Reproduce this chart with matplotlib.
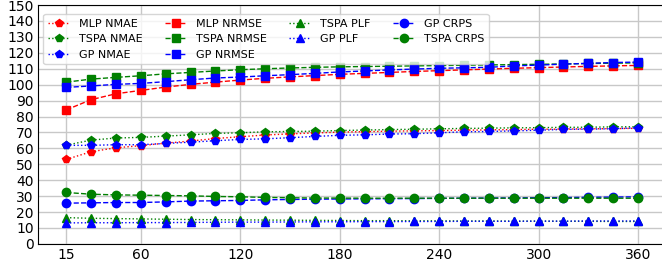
import matplotlib
matplotlib.use("Agg")
import matplotlib.pyplot as plt

# horizon (minutes)
horizons = [15, 30, 45, 60, 75, 90, 105, 120, 135, 150, 165, 180,
            195, 210, 225, 240, 255, 270, 285, 300, 315, 330, 345, 360]
xticks = [15, 60, 120, 180, 240, 300, 360]

mlp_nmae = [53.1, 57.9, 60.4, 61.7, 63.3, 64.6, 66.2, 67.3, 68.4, 69.1, 69.7, 70.2,
            70.5, 70.8, 71.0, 71.2, 71.4, 71.6, 71.8, 72.0, 72.1, 72.3, 72.4, 72.6]
tspa_nmae = [62.0, 65.2, 66.5, 66.9, 67.7, 68.5, 69.4, 69.8, 70.4, 70.6, 70.8, 71.2,
             71.5, 71.8, 72.0, 72.3, 72.5, 72.7, 72.9, 73.0, 73.2, 73.3, 73.5, 73.6]
gp_nmae = [61.9, 61.9, 62.3, 62.3, 63.1, 63.9, 64.8, 65.6, 66.0, 66.7, 67.5, 68.2,
           68.5, 69.0, 69.2, 69.8, 70.4, 70.6, 71.0, 71.4, 71.9, 72.1, 72.3, 72.9]

mlp_nrmse = [84.2, 90.6, 94.3, 96.4, 98.5, 100.2, 101.6, 102.9, 104.0, 104.9, 105.7, 106.5,
             107.1, 107.7, 108.3, 108.8, 109.3, 109.8, 110.3, 110.7, 111.1, 111.5, 111.8, 112.1]
tspa_nrmse = [101.6, 103.5, 104.6, 105.6, 106.8, 107.7, 108.6, 109.4, 110.0, 110.5, 110.9, 111.2,
              111.4, 111.6, 111.8, 112.0, 112.2, 112.4, 112.6, 112.8, 113.0, 113.3, 113.5, 113.7]
gp_nrmse = [98.3, 99.2, 100.2, 100.8, 101.9, 103.1, 104.2, 104.8, 105.6, 106.3, 107.1, 108.0,
            108.6, 109.3, 109.8, 110.3, 110.6, 110.9, 111.8, 112.3, 112.9, 113.4, 113.9, 114.2]

tspa_plf = [16.5, 16.1, 15.9, 15.7, 15.5, 15.3, 15.2, 15.1, 15.0, 14.9, 14.8, 14.7,
            14.6, 14.6, 14.5, 14.5, 14.4, 14.4, 14.3, 14.3, 14.2, 14.2, 14.1, 14.1]
gp_plf = [13.2, 13.3, 13.3, 13.4, 13.4, 13.5, 13.6, 13.7, 13.7, 13.8, 13.9, 13.9,
          14.0, 14.0, 14.1, 14.1, 14.2, 14.2, 14.2, 14.3, 14.3, 14.4, 14.4, 14.4]

gp_crps = [25.6, 25.8, 26.0, 26.0, 26.4, 26.9, 27.1, 27.3, 27.7, 27.9, 28.1, 28.2,
           28.3, 28.4, 28.5, 28.6, 28.7, 28.8, 28.9, 29.0, 29.1, 29.3, 29.4, 29.6]
tspa_crps = [32.3, 31.2, 30.8, 30.6, 30.4, 30.2, 29.8, 29.6, 29.2, 29.0, 28.8, 28.8,
             28.7, 28.7, 28.7, 28.7, 28.7, 28.7, 28.7, 28.7, 28.7, 28.7, 28.7, 28.7]

fig = plt.figure(figsize=(6.62, 2.66), dpi=100)
ax = fig.add_axes([0.057, 0.083, 0.95, 0.898])

ms = 6
lw = 1.0
ax.plot(horizons, mlp_nmae, ":", marker="p", color="red", ms=ms, lw=lw, label="MLP NMAE")
ax.plot(horizons, tspa_nmae, ":", marker="p", color="green", ms=ms, lw=lw, label="TSPA NMAE")
ax.plot(horizons, gp_nmae, ":", marker="p", color="blue", ms=ms, lw=lw, label="GP NMAE")
ax.plot(horizons, mlp_nrmse, "--", marker="s", color="red", ms=ms, lw=lw, label="MLP NRMSE")
ax.plot(horizons, tspa_nrmse, "--", marker="s", color="green", ms=ms, lw=lw, label="TSPA NRMSE")
ax.plot(horizons, gp_nrmse, "--", marker="s", color="blue", ms=ms, lw=lw, label="GP NRMSE")
ax.plot(horizons, tspa_plf, ":", marker="^", color="green", ms=ms, lw=lw, label="TSPA PLF")
ax.plot(horizons, gp_plf, ":", marker="^", color="blue", ms=ms, lw=lw, label="GP PLF")
ax.plot(horizons, gp_crps, "--", marker="o", color="blue", ms=ms, lw=lw, label="GP CRPS")
ax.plot(horizons, tspa_crps, "--", marker="o", color="green", ms=ms, lw=lw, label="TSPA CRPS")

ax.set_xlim(-2.25, 377.25)
ax.set_ylim(0, 150)
ax.set_xticks(xticks)
ax.set_yticks(range(0, 151, 10))
ax.tick_params(labelsize=10, length=0, pad=3)
ax.grid(True, color="#c8c8c8", lw=1.0)
ax.set_axisbelow(True)

ax.legend(loc="upper left", ncol=4, fontsize=8, bbox_to_anchor=(0.0, 0.985))

fig.savefig("out.png", dpi=100)
